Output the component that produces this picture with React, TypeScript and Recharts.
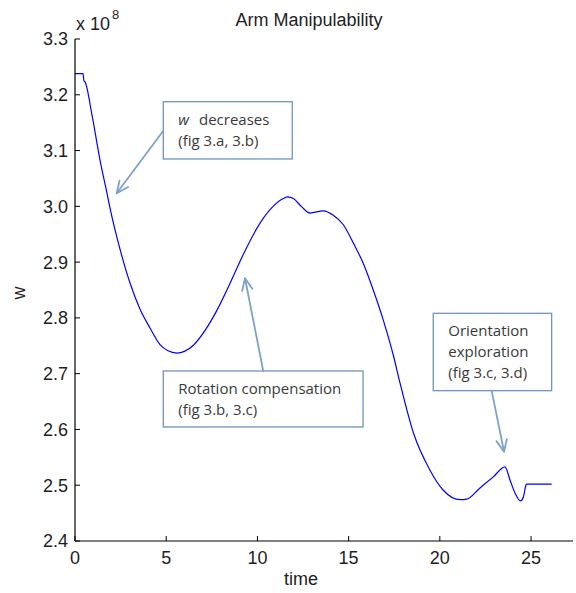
import React from 'react';
import { LineChart, Line, XAxis, YAxis, ReferenceArea, ReferenceLine, Customized } from 'recharts';

// time (s) and manipulability w (x 10^8)
const time = [0, 0.44, 0.49, 0.55, 0.93, 1.37, 1.75, 1.92, 2.47, 3.02, 3.56, 4.11, 4.66, 5.1, 5.58, 6.0, 6.49, 7.22, 7.77, 8.5, 9.23, 9.96, 10.69, 11.42, 11.68, 11.97, 12.43, 12.88, 13.61, 14.16, 14.71, 15.26, 15.8, 16.35, 16.9, 17.45, 17.82, 18.55, 19.46, 20.19, 21.11, 21.47, 22.2, 22.93, 23.57, 23.85, 24.12, 24.43, 24.58, 24.72, 24.76, 26.13];
const wValues = [3.238, 3.238, 3.225, 3.223, 3.164, 3.083, 3.024, 2.997, 2.923, 2.862, 2.816, 2.782, 2.752, 2.741, 2.737, 2.740, 2.751, 2.782, 2.813, 2.862, 2.914, 2.96, 2.994, 3.014, 3.017, 3.014, 2.999, 2.988, 2.992, 2.984, 2.967, 2.934, 2.898, 2.85, 2.796, 2.733, 2.683, 2.594, 2.527, 2.491, 2.474, 2.475, 2.495, 2.515, 2.533, 2.509, 2.486, 2.472, 2.479, 2.5, 2.502, 2.502];

const xTicks = [0, 5, 10, 15, 20, 25];
const yTicks = [2.4, 2.5, 2.6, 2.7, 2.8, 2.9, 3.0, 3.1, 3.2, 3.3];
const xDomain = [0, 27.3];
const yDomain = [2.4, 3.3];

// annotation boxes (data coords) and their text lines
const boxes = [
  { x1: 4.84, x2: 11.91, y1: 3.0849, y2: 3.1876, lines: ['__W__decreases', '(fig 3.a, 3.b)'] },
  { x1: 4.84, x2: 15.79, y1: 2.6044, y2: 2.7048, lines: ['Rotation compensation', '(fig 3.b, 3.c)'] },
  { x1: 19.64, x2: 26.13, y1: 2.6695, y2: 2.8082, lines: ['Orientation', 'exploration', '(fig 3.c, 3.d)'] },
];
// arrows: from -> to (data coords)
const arrows = [
  { from: { x: 4.84, y: 3.1356 }, to: { x: 2.286, y: 3.0234 } },
  { from: { x: 10.32, y: 2.7048 }, to: { x: 9.32, y: 2.871 } },
  { from: { x: 22.84, y: 2.6695 }, to: { x: 23.52, y: 2.5601 } },
];

const data = time.map((t, i) => ({ t, w: wValues[i] }));

const AXIS_FONT = '"Liberation Sans", Arial, sans-serif';
const NOTE_FONT = '"Open Sans", sans-serif';
const TEXT_COLOR = '#1e1e1e';

const BottomTick = (props: any) => {
  const { x, y, payload } = props;
  const ay = y - 10;
  return (
    <g>
      <line x1={x} x2={x} y1={ay} y2={ay - 5} stroke="#000" strokeWidth={1} />
      <text x={x} y={y} dy="0.71em" textAnchor="middle" fontFamily={AXIS_FONT} fontSize={18} fill={TEXT_COLOR}>
        {payload.value}
      </text>
    </g>
  );
};

const LeftTick = (props: any) => {
  const { x, y, payload } = props;
  const ax = x + 7;
  return (
    <g>
      <line x1={ax} x2={ax + 5} y1={y} y2={y} stroke="#000" strokeWidth={1} />
      <text x={x} y={y} dy="0.355em" textAnchor="end" fontFamily={AXIS_FONT} fontSize={18} fill={TEXT_COLOR}>
        {Number(payload.value).toFixed(1)}
      </text>
    </g>
  );
};

const TopTick = (props: any) => {
  const { x, y } = props;
  return <line x1={x} x2={x} y1={y} y2={y + 5} stroke="#000" strokeWidth={1} />;
};

const RightTick = (props: any) => {
  const { x, y } = props;
  return <line x1={x} x2={x - 5} y1={y} y2={y} stroke="#000" strokeWidth={1} />;
};

const makeBox = (lines: string[]) => (props: any) => {
  const { x, y, width, height } = props;
  return (
    <g>
      <rect x={x} y={y} width={width} height={height} fill="#fff" stroke="#6f94c0" strokeWidth={1.3} />
      {lines.map((ln, i) => (
        <text key={i} x={x + 15} y={y + 23 + i * 21} fontFamily={NOTE_FONT} fontSize={15} fill="#3a3a3a">
          {ln.startsWith('__W__') ? (
            <>
              <tspan fontStyle="italic">w</tspan>
              <tspan dx={10}>{ln.slice(5)}</tspan>
            </>
          ) : (
            ln
          )}
        </text>
      ))}
    </g>
  );
};

const ArrowShape = (props: any) => {
  const { x1, y1, x2, y2 } = props;
  const a = Math.atan2(y2 - y1, x2 - x1);
  const L = 13;
  const s = 0.42;
  const b1x = x2 - L * Math.cos(a - s);
  const b1y = y2 - L * Math.sin(a - s);
  const b2x = x2 - L * Math.cos(a + s);
  const b2y = y2 - L * Math.sin(a + s);
  return (
    <g stroke="#7fa1cb" strokeWidth={1.8} fill="none" strokeLinecap="round" strokeLinejoin="round">
      <line x1={x1} y1={y1} x2={x2} y2={y2} />
      <polyline points={`${b1x},${b1y} ${x2},${y2} ${b2x},${b2y}`} />
    </g>
  );
};

const Labels = () => (
  <g fontFamily={AXIS_FONT} fill={TEXT_COLOR}>
    <text x={309} y={26} fontSize={18} textAnchor="middle">Arm Manipulability</text>
    <text x={76} y={30} fontSize={18}>x 10</text>
    <text x={112} y={19} fontSize={13}>8</text>
    <text x={301} y={585} fontSize={18} textAnchor="middle">time</text>
    <text x={25} y={293} fontSize={18} textAnchor="middle" transform="rotate(-90 25 293)">w</text>
  </g>
);

export default function App() {
  return (
    <div style={{ position: 'absolute', left: 0, top: 0, background: '#fff' }}>
      <LineChart width={576} height={593} data={data} margin={{ top: 39, right: 3, bottom: 0, left: 0 }}>
        <XAxis
          dataKey="t"
          type="number"
          domain={xDomain}
          ticks={xTicks}
          interval={0}
          height={52}
          tickSize={0}
          tickMargin={10}
          tickLine={false}
          axisLine={{ stroke: '#000', strokeWidth: 1.2 }}
          tick={<BottomTick />}
          allowDataOverflow
        />
        <XAxis
          xAxisId="top"
          orientation="top"
          dataKey="t"
          type="number"
          domain={xDomain}
          ticks={xTicks}
          interval={0}
          height={0}
          tickSize={0}
          tickMargin={0}
          tickLine={false}
          axisLine={{ stroke: '#000', strokeWidth: 1.2 }}
          tick={<TopTick />}
          allowDataOverflow
        />
        <YAxis
          type="number"
          domain={yDomain}
          ticks={yTicks}
          interval={0}
          width={75}
          tickSize={0}
          tickMargin={7}
          tickLine={false}
          axisLine={{ stroke: '#000', strokeWidth: 1.2 }}
          tick={<LeftTick />}
          allowDataOverflow
        />
        <YAxis
          yAxisId="right"
          orientation="right"
          type="number"
          domain={yDomain}
          ticks={yTicks}
          interval={0}
          width={0}
          tickSize={0}
          tickMargin={0}
          tickLine={false}
          axisLine={{ stroke: '#000', strokeWidth: 1.2 }}
          tick={<RightTick />}
          allowDataOverflow
        />
        <Line
          dataKey="w"
          type="monotone"
          stroke="#0000ff"
          strokeWidth={1.2}
          dot={false}
          isAnimationActive={false}
        />
        {boxes.map((b, i) => (
          <ReferenceArea
            key={`box${i}`}
            x1={b.x1}
            x2={b.x2}
            y1={b.y1}
            y2={b.y2}
            shape={makeBox(b.lines)}
            ifOverflow="visible"
          />
        ))}
        {arrows.map((a, i) => (
          <ReferenceLine key={`arr${i}`} segment={[a.from, a.to]} shape={ArrowShape} ifOverflow="visible" />
        ))}
        <Customized component={Labels} />
      </LineChart>
    </div>
  );
}
